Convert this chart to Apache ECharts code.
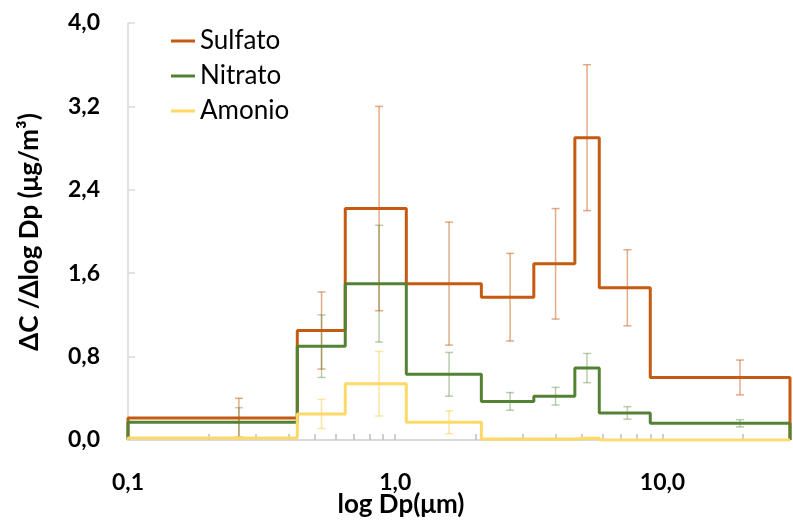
<!DOCTYPE html>
<html>
<head>
<meta charset="utf-8">
<script src="https://cdn.jsdelivr.net/npm/echarts@6/dist/echarts.min.js"></script>
<style>
  html, body { margin: 0; padding: 0; background: #fff; }
  #main { width: 793px; height: 523px; }
</style>
</head>
<body>
<div id="main"></div>
<script>
// impactor stage cut points (um) and error bar positions
var binEdges = [0.1, 0.43, 0.65, 1.1, 2.1, 3.3, 4.7, 5.8, 9.0, 30];
var binMids = [0.26, 0.53, 0.87, 1.59, 2.69, 3.98, 5.22, 7.39, 19.5];

var sulfato = [0.21, 1.05, 2.22, 1.50, 1.37, 1.69, 2.90, 1.46, 0.60];
var sulfatoErr = [0.19, 0.37, 0.98, 0.59, 0.42, 0.53, 0.70, 0.365, 0.167];

var nitrato = [0.17, 0.90, 1.50, 0.63, 0.37, 0.42, 0.69, 0.26, 0.16];
var nitratoErr = [0.14, 0.30, 0.56, 0.21, 0.085, 0.085, 0.14, 0.06, 0.035];

var amonio = [0.02, 0.25, 0.54, 0.17, 0.01, 0.01, 0.02, 0.0, 0.0];
var amonioErr = [0.01, 0.14, 0.31, 0.11, 0.005, 0.005, 0.005, 0.0, 0.0];

var xMinorTicks = [0.2, 0.3, 0.4, 0.5, 0.6, 0.7, 0.8, 0.9, 1, 2, 3, 4, 5, 6, 7, 8, 9, 10, 20];

var colors = { sulfato: '#C55A11', nitrato: '#548235', amonio: '#FFD966' };
var errColors = {
  sulfato: 'rgba(197,90,17,0.5)',
  nitrato: 'rgba(84,130,53,0.4)',
  amonio: 'rgba(255,205,90,0.55)'
};

function stepData(vals) {
  var pts = [[binEdges[0], 0]];
  for (var i = 0; i < vals.length; i++) {
    pts.push([binEdges[i], vals[i]]);
  }
  pts.push([binEdges[binEdges.length - 1], vals[vals.length - 1]]);
  pts.push([binEdges[binEdges.length - 1], 0]);
  return pts;
}

function errData(vals, errs) {
  return binMids.map(function (m, i) {
    return [m, vals[i] - errs[i], vals[i] + errs[i]];
  });
}

function errRender(color) {
  return function (params, api) {
    var x = api.value(0);
    var lo = api.coord([x, api.value(1)]);
    var hi = api.coord([x, api.value(2)]);
    var w = 4;
    var st = { stroke: color, lineWidth: 1.5 };
    return {
      type: 'group',
      children: [
        { type: 'line', shape: { x1: lo[0], y1: lo[1], x2: hi[0], y2: hi[1] }, style: st },
        { type: 'line', shape: { x1: lo[0] - w, y1: lo[1], x2: lo[0] + w, y2: lo[1] }, style: st },
        { type: 'line', shape: { x1: hi[0] - w, y1: hi[1], x2: hi[0] + w, y2: hi[1] }, style: st }
      ]
    };
  };
}

function lineSeries(name, vals, color) {
  return {
    name: name,
    type: 'line',
    step: 'end',
    xAxisIndex: 0,
    showSymbol: false,
    symbol: 'none',
    lineStyle: { color: color, width: 3 },
    itemStyle: { color: color },
    z: 5,
    data: stepData(vals)
  };
}

function errSeries(name, vals, errs, color) {
  return {
    name: name,
    type: 'custom',
    xAxisIndex: 0,
    renderItem: errRender(color),
    encode: { x: 0, y: [1, 2] },
    z: 2,
    data: errData(vals, errs)
  };
}

var comma = function (v) { return v.toFixed(1).replace('.', ','); };

var chart = echarts.init(document.getElementById('main'));
chart.setOption({
  animation: false,
  backgroundColor: '#fff',
  grid: { left: 128, right: 3, top: 23, bottom: 83, outerBoundsMode: 'none' },
  legend: {
    data: ['Sulfato', 'Nitrato', 'Amonio'],
    orient: 'vertical',
    left: 166,
    top: 23,
    icon: 'rect',
    itemWidth: 24,
    itemHeight: 3,
    itemGap: 9,
    textStyle: { fontFamily: 'Lato', fontSize: 26, color: '#000', lineHeight: 26 }
  },
  xAxis: [
    {
      type: 'log',
      logBase: 10,
      min: 0.1,
      max: 30,
      position: 'bottom',
      axisLine: { show: true, onZero: false, lineStyle: { color: '#d9d9d9', width: 2 } },
      axisTick: { show: false },
      splitLine: { show: false },
      axisLabel: {
        formatter: comma,
        showMaxLabel: false,
        margin: 31,
        fontFamily: 'Lato',
        fontWeight: 'bold',
        fontSize: 23,
        color: '#000'
      }
    },
    {
      // minor ticks of the log axis
      type: 'value',
      min: -1,
      max: Math.log10(30),
      position: 'bottom',
      axisLine: { show: false, onZero: false },
      axisLabel: { show: false },
      splitLine: { show: false },
      axisTick: {
        show: true,
        inside: true,
        length: 6,
        lineStyle: { color: '#bfbfbf', width: 1.5 },
        customValues: xMinorTicks.map(function (v) { return Math.log10(v); })
      }
    }
  ],
  yAxis: {
    type: 'value',
    min: 0,
    max: 4,
    interval: 0.8,
    axisLine: { show: true, onZero: false, lineStyle: { color: '#d9d9d9', width: 1.5 } },
    axisTick: { show: true, inside: true, length: 7, lineStyle: { color: '#d9d9d9', width: 1.5 } },
    splitLine: { show: false },
    axisLabel: {
      formatter: comma,
      margin: 28,
      fontFamily: 'Lato',
      fontWeight: 'bold',
      fontSize: 23,
      color: '#000'
    }
  },
  graphic: [
    {
      type: 'text',
      x: 401,
      y: 505,
      style: {
        text: 'log Dp(μm)',
        fontFamily: 'Lato',
        fontWeight: 'bold',
        fontSize: 26,
        fill: '#000',
        textAlign: 'center',
        textVerticalAlign: 'middle'
      }
    },
    {
      type: 'text',
      x: 30,
      y: 232,
      rotation: Math.PI / 2,
      style: {
        text: 'ΔC /Δlog Dp (μg/m³)',
        fontFamily: 'Lato',
        fontWeight: 'bold',
        fontSize: 26,
        fill: '#000',
        textAlign: 'center',
        textVerticalAlign: 'middle'
      }
    }
  ],
  series: [
    errSeries('Sulfato err', sulfato, sulfatoErr, errColors.sulfato),
    errSeries('Nitrato err', nitrato, nitratoErr, errColors.nitrato),
    errSeries('Amonio err', amonio, amonioErr, errColors.amonio),
    lineSeries('Sulfato', sulfato, colors.sulfato),
    lineSeries('Nitrato', nitrato, colors.nitrato),
    lineSeries('Amonio', amonio, colors.amonio)
  ]
});
</script>
</body>
</html>
